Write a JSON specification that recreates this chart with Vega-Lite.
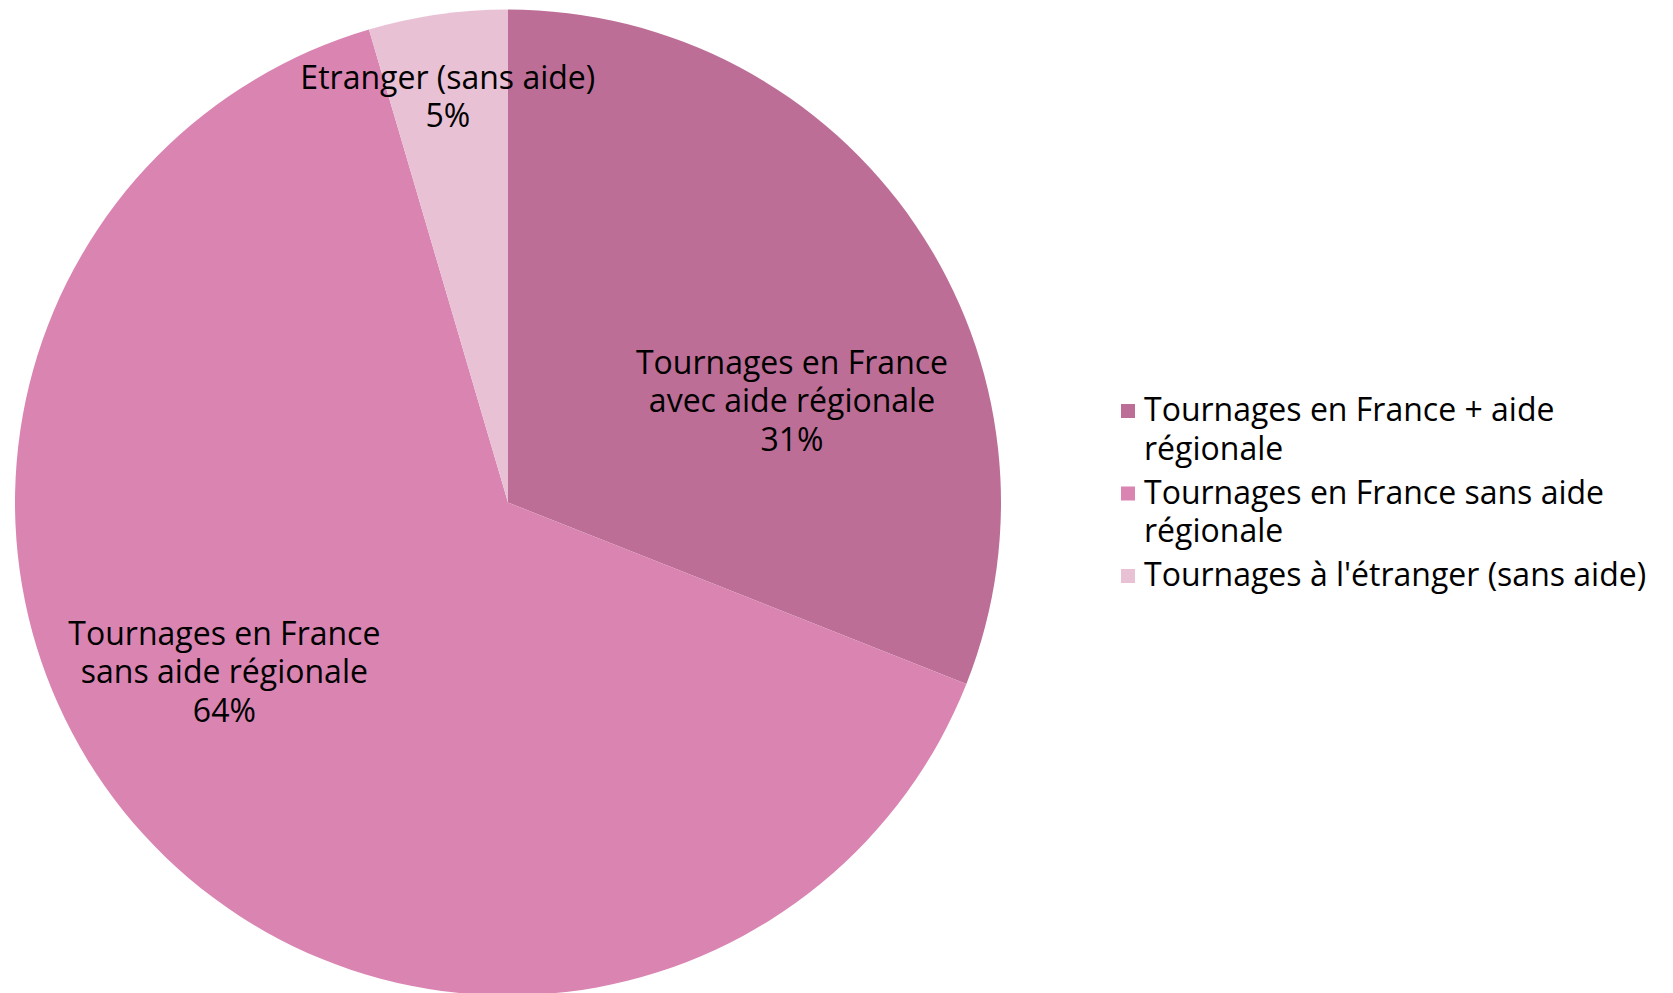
{
  "$schema": "https://vega.github.io/schema/vega-lite/v6.json",
  "width": 1016,
  "height": 1005,
  "padding": 0,
  "autosize": {"type": "pad"},
  "background": "white",
  "config": {"view": {"stroke": null}, "font": "Open Sans"},
  "data": {
    "values": [
      {"cat": "Tournages en France + aide régionale", "value": 31.0, "order": 1, "label": ["Tournages en France", "avec aide régionale", "31%"]},
      {"cat": "Tournages en France sans aide régionale", "value": 64.45, "order": 2, "label": ["Tournages en France", "sans aide régionale", "64%"]},
      {"cat": "Tournages à l'étranger (sans aide)", "value": 4.55, "order": 3, "label": ["Etranger (sans aide)", "5%"]}
    ]
  },
  "encoding": {
    "theta": {"field": "value", "type": "quantitative", "stack": true},
    "order": {"field": "order", "type": "quantitative"},
    "color": {
      "field": "cat",
      "type": "nominal",
      "sort": ["Tournages en France + aide régionale", "Tournages en France sans aide régionale", "Tournages à l'étranger (sans aide)"],
      "scale": {
        "domain": ["Tournages en France + aide régionale", "Tournages en France sans aide régionale", "Tournages à l'étranger (sans aide)"],
        "range": ["#BC6E96", "#DA84B2", "#E8C1D4"]
      },
      "legend": {
        "title": null,
        "orient": "none",
        "legendX": 1112,
        "legendY": 395,
        "symbolType": "square",
        "symbolSize": 196,
        "symbolStrokeWidth": 0,
        "symbolOpacity": 1,
        "labelFont": "Open Sans",
        "labelFontSize": 32,
        "labelColor": "#000000",
        "labelLimit": 700,
        "labelBaseline": "middle",
        "labelOffset": 0,
        "rowPadding": 11.5,
        "encode": {"labels": {"update": {"lineHeight": {"value": 38.5}}}},
        "labelExpr": "datum.label == 'Tournages en France + aide régionale' ? ['Tournages en France + aide', 'régionale'] : datum.label == 'Tournages en France sans aide régionale' ? ['Tournages en France sans aide', 'régionale'] : datum.label"
      }
    }
  },
  "layer": [
    {"mark": {"type": "arc", "outerRadius": 493}},
    {
      "transform": [{"filter": "datum.order == 1"}],
      "mark": {"type": "text", "radius": 316, "thetaOffset": 0.143, "fontSize": 32, "lineHeight": 38.5, "baseline": "middle", "align": "center"},
      "encoding": {"text": {"field": "label"}, "color": {"value": "#000000"}}
    },
    {
      "transform": [{"filter": "datum.order == 2"}],
      "mark": {"type": "text", "radius": 313, "thetaOffset": 2.251, "fontSize": 32, "lineHeight": 38.5, "baseline": "middle", "align": "center"},
      "encoding": {"text": {"field": "label"}, "color": {"value": "#000000"}}
    },
    {
      "transform": [{"filter": "datum.order == 3"}],
      "mark": {"type": "text", "radius": 428, "thetaOffset": -0.284, "fontSize": 32, "lineHeight": 38.5, "baseline": "middle", "align": "center"},
      "encoding": {"text": {"field": "label"}, "color": {"value": "#000000"}}
    }
  ]
}
